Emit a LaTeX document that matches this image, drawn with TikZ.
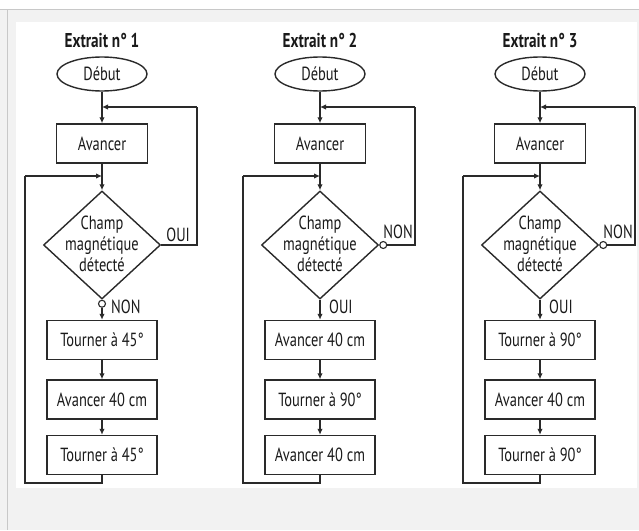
\documentclass[tikz,border=0pt]{standalone}
\usepackage{fontspec}
\setmainfont[FakeStretch=0.76]{PT Sans}
\usetikzlibrary{shapes.geometric,arrows.meta,calc}
\definecolor{ln}{HTML}{2A2A2A}
\definecolor{txt}{HTML}{1A1A1A}
\definecolor{bgg}{HTML}{F2F2F2}
\definecolor{frm}{HTML}{C8C8C8}
\newcommand\flowpanel[9]{%
  \node[titlest] (#1title) at (#2,40) {#3};
  \node[debst] (#1deb) at (#2,74) {Début};
  \node[boxst, minimum width=91pt] (#1av) at (#2,143.5) {Avancer};
  \node[diast] (#1dia) at (#2,245) {};
  \node[diatext] (#1diat) at (#2,244) {Champ\\magnétique\\détecté};
  \node[boxst] (#1b1) at (#2,340) {#4};
  \node[boxst] (#1b2) at (#2,399.5) {#5};
  \node[boxst] (#1b3) at (#2,455) {#6};
  \coordinate (#1jt) at (#2,107);
  \coordinate (#1jl) at (#2,176);
  \coordinate (#1tr) at (#2+95,107);
  \coordinate (#1rr) at (#2+95,245);
  \coordinate (#1ll) at (#2-77,176);
  \coordinate (#1bl) at (#2-77,483);
  \coordinate (#1bm) at (#2,483);
  \draw[arr] (#1deb) -- (#1av);
  \draw[arr] (#1av) -- (#1dia);
  \draw[arr] (#1b1) -- (#1b2);
  \draw[arr] (#1b2) -- (#1b3);
  \draw[line] (#1b3) -- (#1bm) -- (#1bl) -- (#1ll);
  \draw[arr] (#1ll) -- (#1jl);
  \ifnum#9=1
    \node[circ, anchor=north] (#1c) at (#1dia.south) {};
    \draw[arr] (#1c) -- (#1b1);
    \draw[line] (#1dia.east) -- (#1rr) -- (#1tr);
    \node[lbl, anchor=south west] (#1lr) at ($(#1dia.east)+(5,-3)$) {#7};
  \else
    \node[circ, anchor=west] (#1c) at (#1dia.east) {};
    \draw[arr] (#1dia) -- (#1b1);
    \draw[line] (#1c) -- (#1rr) -- (#1tr);
    \node[lbl, anchor=south west] (#1lr) at ($(#1dia.east)+(4,-6)$) {#7};
  \fi
  \draw[arr] (#1tr) -- (#1jt);
  \node[lbl, anchor=west] (#1lb) at ($(#1dia.south)+(9,7)$) {#8};
}
\begin{document}
\begin{tikzpicture}[x=1pt,y=-1pt,
  line/.style={draw=ln, line width=1.4pt},
  arr/.style={line, -{Latex[length=6pt,width=5.5pt]}},
  boxst/.style={draw=ln, line width=1.4pt, minimum width=110pt, minimum height=39pt, inner sep=0pt, font=\fontsize{19}{21}\selectfont, text=txt},
  debst/.style={ellipse, draw=ln, line width=1.4pt, minimum width=90pt, minimum height=34pt, inner sep=0pt, font=\fontsize{19}{21}\selectfont, text=txt},
  diast/.style={diamond, draw=ln, line width=1.4pt, minimum width=117pt, minimum height=108pt, inner sep=0pt},
  diatext/.style={align=center, inner sep=0pt, font=\fontsize{19}{21}\selectfont, text=txt},
  titlest/.style={inner sep=0pt, font=\bfseries\fontsize{20}{22}\selectfont, text=txt},
  lbl/.style={inner sep=0pt, font=\fontsize{19}{21}\selectfont, text=txt},
  circ/.style={circle, draw=ln, fill=white, line width=1.1pt, minimum size=7pt, inner sep=0pt}]
\useasboundingbox (0,0) rectangle (639,530);
\fill[bgg] (0,0) rectangle (639,530);
\fill[white] (0,0) rectangle (639,9);
\draw[frm, line width=1pt] (0,9) -- (639,9);
\draw[frm, line width=1pt] (7,9) -- (7,530);
\fill[white] (16,22) rectangle (637,488);
\flowpanel{p1}{102}{Extrait n° 1}{Tourner à 45°}{Avancer 40 cm}{Tourner à 45°}{OUI}{NON}{1}
\flowpanel{p2}{320}{Extrait n° 2}{Avancer 40 cm}{Tourner à 90°}{Avancer 40 cm}{NON}{OUI}{0}
\flowpanel{p3}{540}{Extrait n° 3}{Tourner à 90°}{Avancer 40 cm}{Tourner à 90°}{NON}{OUI}{0}
\end{tikzpicture}
\end{document}
